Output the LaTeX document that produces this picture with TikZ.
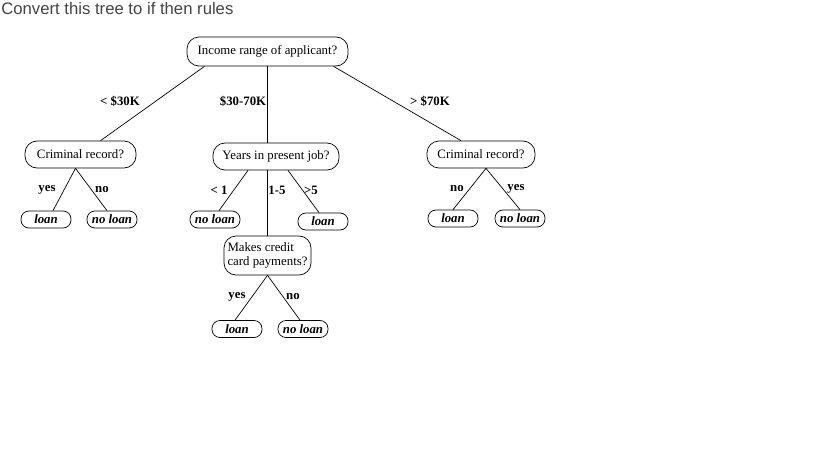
\documentclass[tikz,border=0pt]{standalone}
\usepackage{fontspec}
\setmainfont{Liberation Serif}
\newfontfamily\titlefont{Liberation Sans}
\usetikzlibrary{positioning}
\definecolor{titlegray}{HTML}{444444}

\begin{document}
\begin{tikzpicture}[x=1pt,y=-1pt,line width=0.7pt,
    font=\fontsize{12.8}{14}\selectfont,
    quest/.style={draw,rounded corners=12pt,inner sep=0pt,align=center,
                  minimum height=27pt},
    leaf/.style={draw,rounded corners=8pt,inner sep=0pt,minimum width=50pt,
                 minimum height=17pt,
                 font=\fontsize{12.8}{14}\selectfont\bfseries\itshape},
    lbl/.style={inner sep=0pt,font=\fontsize{12.8}{14}\selectfont\bfseries}]
  \useasboundingbox (0,0) rectangle (819,460);
  \node[anchor=base west,inner sep=0pt,text=titlegray,
        font=\titlefont\fontsize{16.7}{18}\selectfont] (title) at (1,15)
        {Convert this tree to if then rules};

  % question nodes
  \node[quest,minimum width=161pt,minimum height=29pt] (root) at (267.5,51.5)
        {Income range of applicant?};
  \node[quest,minimum width=111pt] (crimL) at (80.5,154.5) {Criminal record?};
  \node[quest,minimum width=126pt] (years) at (276,156.5) {Years in present job?};
  \node[quest,minimum width=108pt] (crimR) at (481,154.5) {Criminal record?};
  \node[quest,rounded corners=12pt,minimum width=87pt,minimum height=39pt,
        align=left] (makes) at (267.5,255.5) {Makes credit\\card payments?};

  % leaves
  \node[leaf] (loanA)   at (46,219.5)  {loan};
  \node[leaf] (noloanA) at (112,219.5) {no loan};
  \node[leaf] (noloanB) at (215,219.5) {no loan};
  \node[leaf] (loanB)   at (323,221.5) {loan};
  \node[leaf] (loanC)   at (237,329)   {loan};
  \node[leaf] (noloanC) at (303,329)   {no loan};
  \node[leaf] (loanD)   at (453,218.5) {loan};
  \node[leaf] (noloanD) at (520,218.5) {no loan};

  % branches
  \draw ([xshift=-63pt]root.south) -- ([xshift=20pt]crimL.north);
  \draw (root.south) -- (root.south |- years.north);
  \draw ([xshift=66pt]root.south) -- ([xshift=-20pt]crimR.north);

  \draw ([xshift=-5pt]crimL.south) -- ([xshift=7pt]loanA.north);
  \draw ([xshift=-5pt]crimL.south) -- ([xshift=-5pt]noloanA.north);

  \draw ([xshift=-28pt]years.south) -- ([xshift=4pt]noloanB.north);
  \draw (makes.north |- years.south) -- (makes.north);
  \draw ([xshift=12pt]years.south) -- ([xshift=-4pt]loanB.north);

  \draw (makes.south) -- ([xshift=-2pt]loanC.north);
  \draw (makes.south) -- ([xshift=-3pt]noloanC.north);

  \draw ([xshift=5pt]crimR.south) -- (loanD.north);
  \draw ([xshift=5pt]crimR.south) -- (noloanD.north);

  % branch labels
  \node[lbl] (lt30) at (120,101) {< \$30K};
  \node[lbl] (mid)  at (243,101) {\$30-70K};
  \node[lbl] (gt70) at (430,101) {> \$70K};

  \node[lbl] (yesA) at (47,190)  {yes};
  \node[lbl] (noA)  at (102,190) {no};

  \node[lbl] (lt1)  at (219,190) {< 1};
  \node[lbl] (mid5) at (277,190) {1-5};
  \node[lbl] (gt5)  at (311,190) {>5};

  \node[lbl] (yesC) at (237,297) {yes};
  \node[lbl] (noC)  at (293,297) {no};

  \node[lbl] (noD)  at (457,189) {no};
  \node[lbl] (yesD) at (516,189) {yes};
\end{tikzpicture}
\end{document}
